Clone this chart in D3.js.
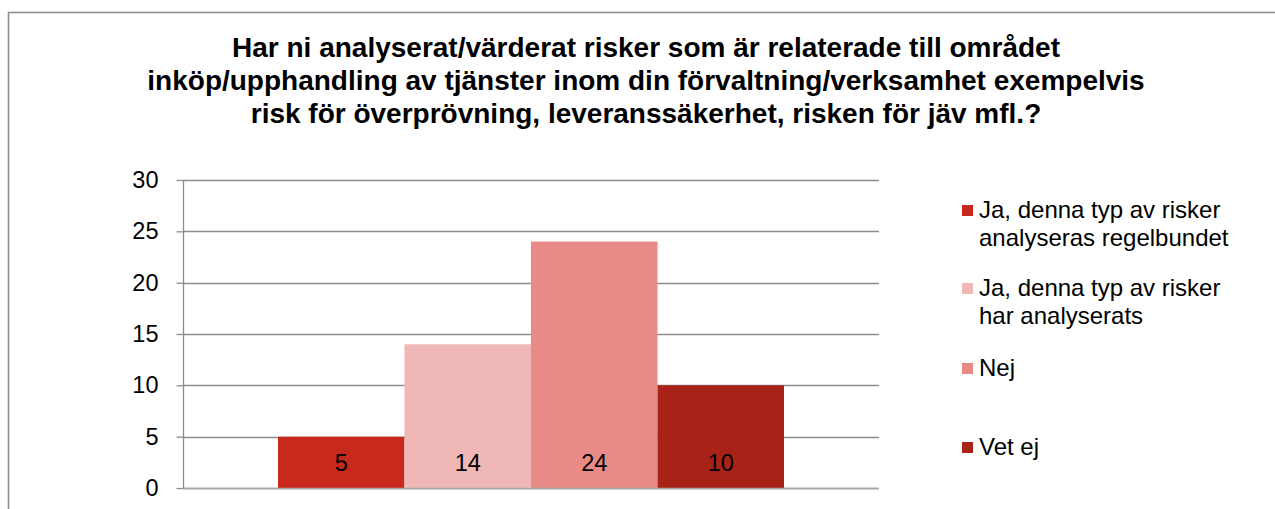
<!DOCTYPE html>
<html><head><meta charset="utf-8">
<script src="https://cdn.jsdelivr.net/npm/d3@7"></script>
<style>
html,body{margin:0;padding:0;background:#fff;}
svg{display:block;font-family:"Liberation Sans",Arial,sans-serif;}
</style></head>
<body>
<svg id="c" width="1275" height="509"></svg>
<script>
const titleLines = [
  "Har ni analyserat/värderat risker som är relaterade till området",
  "inköp/upphandling av tjänster inom din förvaltning/verksamhet exempelvis",
  "risk för överprövning, leveranssäkerhet, risken för jäv mfl.?"
];
const seriesNames = [
  "Ja, denna typ av risker analyseras regelbundet",
  "Ja, denna typ av risker har analyserats",
  "Nej",
  "Vet ej"
];
const legendLines = [
  ["Ja, denna typ av risker", "analyseras regelbundet"],
  ["Ja, denna typ av risker", "har analyserats"],
  ["Nej"],
  ["Vet ej"]
];
const values = [5, 14, 24, 10];
const colors = ["#C8291D", "#EFB8B7", "#E88B86", "#A82217"];
const yTicks = [0, 5, 10, 15, 20, 25, 30];

(function () {
const svg = d3.select("#c");
svg.append("rect").attr("x", 8.5).attr("y", 12.5).attr("width", 1280).attr("height", 520)
  .attr("fill", "none").attr("stroke", "#8c8c8c").attr("stroke-width", 1.6);

svg.append("g").selectAll("text").data(titleLines).join("text")
  .attr("x", 646).attr("y", (d, i) => 57 + i * 33)
  .attr("text-anchor", "middle").attr("font-weight", "bold").attr("font-size", 28)
  .attr("fill", "#000").text(d => d);

const pL = 183, pR = 879, pT = 180, pB = 488;
const y = d3.scaleLinear().domain([0, 30]).range([pB, pT]);
const x1 = d3.scaleBand().domain(d3.range(values.length))
  .range([pL + 95, pR - 95]);

const g = svg.append("g");
g.append("g").selectAll("line").data(yTicks).join("line")
  .attr("x1", pL).attr("x2", pR)
  .attr("y1", d => Math.round(y(d)) + 0.5).attr("y2", d => Math.round(y(d)) + 0.5)
  .attr("stroke", "#8c8c8c").attr("stroke-width", 1.3);

g.append("g").selectAll("rect").data(values).join("rect")
  .attr("x", (d, i) => x1(i)).attr("width", x1.bandwidth())
  .attr("y", d => y(d)).attr("height", d => y(0) - y(d))
  .attr("fill", (d, i) => colors[i]);

g.append("g").selectAll("text").data(values).join("text")
  .attr("x", (d, i) => x1(i) + x1.bandwidth() / 2).attr("y", 470.5)
  .attr("text-anchor", "middle").attr("font-size", 23.5).attr("fill", "#000")
  .text(d => d);

const yAxis = d3.axisLeft(y).tickValues(yTicks).tickSize(7).tickPadding(18);
const ax = svg.append("g").attr("transform", `translate(${pL + 0.5},0)`).call(yAxis);
ax.select(".domain").attr("stroke", "#8c8c8c").attr("stroke-width", 1.3).attr("d", `M0,${pT}V${pB}`);
ax.selectAll(".tick line").attr("stroke", "#8c8c8c").attr("stroke-width", 1.3);
ax.selectAll(".tick text").attr("font-size", 23.5).attr("fill", "#000")
  .attr("font-family", "'Liberation Sans', Arial, sans-serif");
svg.append("line").attr("x1", pL).attr("x2", pR)
  .attr("y1", Math.round(y(0)) + 0.5).attr("y2", Math.round(y(0)) + 0.5)
  .attr("stroke", "#a6a6a6").attr("stroke-width", 1.3);

const legY = [210, 288, 368, 447];
const lg = svg.append("g").selectAll("g").data(seriesNames).join("g")
  .attr("transform", (d, i) => `translate(962,${legY[i]})`);
lg.append("rect").attr("x", 0).attr("y", -5).attr("width", 11).attr("height", 11)
  .attr("fill", (d, i) => colors[i]);
lg.each(function (d, i) {
  d3.select(this).selectAll("text").data(legendLines[i]).join("text")
    .attr("x", 17).attr("y", (t, j) => 8 + j * 28)
    .attr("font-size", 24).attr("fill", "#000").text(t => t);
});
})();
</script>
</body></html>
